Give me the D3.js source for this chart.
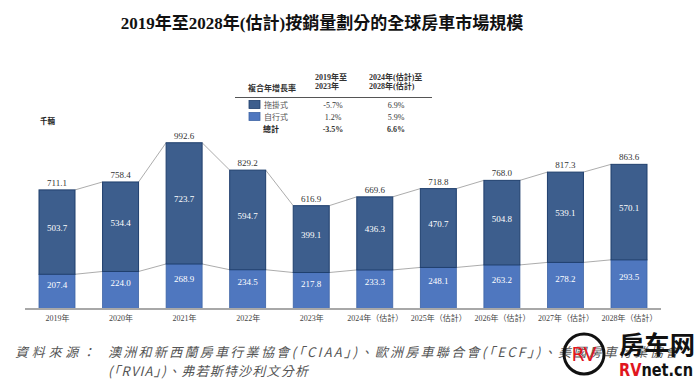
<!DOCTYPE html>
<html>
<head>
<meta charset="utf-8">
<script src="https://cdn.jsdelivr.net/npm/d3@7"></script>
<style>
  body { margin: 0; background: #fff; }
  svg { display: block; }
</style>
</head>
<body>
<script>
// data (thousand units)
const years = ["2019年", "2020年", "2021年", "2022年", "2023年",
  "2024年（估計）", "2025年（估計）", "2026年（估計）", "2027年（估計）", "2028年（估計）"];
const towable = [503.7, 534.4, 723.7, 594.7, 399.1, 436.3, 470.7, 504.8, 539.1, 570.1];
const motorized = [207.4, 224.0, 268.9, 234.5, 217.8, 233.3, 248.1, 263.2, 278.2, 293.5];
const totals = [711.1, 758.4, 992.6, 829.2, 616.9, 669.6, 718.8, 768.0, 817.3, 863.6];

const cagrHead = ["複合年增長率", ["2019年至", "2023年"], ["2024年(估計)至", "2028年(估計)"]];
const cagrRows = [
  { name: "拖掛式", a: "-5.7%", b: "6.9%" },
  { name: "自行式", a: "1.2%", b: "5.9%" },
  { name: "總計", a: "-3.5%", b: "6.6%" }
];

const W = 700, H = 385;
const serif = "'Liberation Serif','Noto Sans CJK TC',serif";
const cjk = "'Noto Sans CJK TC','Liberation Serif',sans-serif";
const darkC = "#3d5e8d", darkS = "#1f3f6d";
const lightC = "#4f77bf", lightS = "#3e64a5";

const svg = d3.select("body").append("svg").attr("width", W).attr("height", H);

// title
svg.append("text")
  .attr("x", 322).attr("y", 29)
  .attr("text-anchor", "middle")
  .style("font-family", serif).style("font-size", "17px").style("font-weight", "bold")
  .attr("fill", "#111")
  .text("2019年至2028年(估計)按銷量劃分的全球房車市場規模");

const x = d3.scalePoint().domain(years).range([57, 629]);
const y = d3.scaleLinear().domain([0, 1000]).range([309, 141.5]);
const bw = 36;

// connecting lines (total top and split level)
function connector(vals) {
  const pts = [];
  years.forEach((yr, i) => {
    pts.push([x(yr) - bw / 2, y(vals[i])]);
    pts.push([x(yr) + bw / 2, y(vals[i])]);
  });
  // only the gaps between bars
  for (let i = 1; i < pts.length - 1; i += 2) {
    svg.append("line")
      .attr("x1", pts[i][0]).attr("y1", pts[i][1])
      .attr("x2", pts[i + 1][0]).attr("y2", pts[i + 1][1])
      .attr("stroke", "#a3a3a3").attr("stroke-width", 0.9);
  }
}
connector(totals);
connector(motorized);

// bars
const g = svg.append("g");
g.selectAll(".mot").data(years).enter().append("rect")
  .attr("x", d => x(d) - bw / 2)
  .attr("y", (d, i) => y(motorized[i]))
  .attr("width", bw)
  .attr("height", (d, i) => y(0) - y(motorized[i]))
  .attr("fill", lightC).attr("stroke", lightS).attr("stroke-width", 0.8);

g.selectAll(".tow").data(years).enter().append("rect")
  .attr("x", d => x(d) - bw / 2)
  .attr("y", (d, i) => y(totals[i]))
  .attr("width", bw)
  .attr("height", (d, i) => y(motorized[i]) - y(totals[i]))
  .attr("fill", darkC).attr("stroke", darkS).attr("stroke-width", 1);

// value labels
g.selectAll(".tl").data(years).enter().append("text")
  .attr("x", d => x(d)).attr("y", (d, i) => y(totals[i]) - 4)
  .attr("text-anchor", "middle")
  .style("font-family", serif).style("font-size", "9px").attr("fill", "#333")
  .text((d, i) => totals[i].toFixed(1));

g.selectAll(".dl").data(years).enter().append("text")
  .attr("x", d => x(d))
  .attr("y", (d, i) => (y(totals[i]) + y(motorized[i])) / 2 - 4)
  .attr("text-anchor", "middle").attr("dominant-baseline", "central")
  .style("font-family", serif).style("font-size", "9px").attr("fill", "#fff")
  .text((d, i) => towable[i].toFixed(1));

g.selectAll(".ml").data(years).enter().append("text")
  .attr("x", d => x(d))
  .attr("y", (d, i) => (y(motorized[i]) + y(0)) / 2 - 7)
  .attr("text-anchor", "middle").attr("dominant-baseline", "central")
  .style("font-family", serif).style("font-size", "9px").attr("fill", "#fff")
  .text((d, i) => motorized[i].toFixed(1));

// baseline axis
const ax = svg.append("g").attr("transform", `translate(0,${y(0)})`)
  .call(d3.axisBottom(x).tickSize(0).tickPadding(6));
ax.select(".domain").remove();
ax.append("line").attr("x1", 25).attr("x2", 661).attr("stroke", "#a8a8a8").attr("stroke-width", 2);
ax.selectAll(".tick text")
  .style("font-family", serif).style("font-size", "8px").attr("fill", "#444");

// unit
svg.append("text").attr("x", 40).attr("y", 124)
  .style("font-family", cjk).style("font-size", "7.5px").style("font-weight", "bold")
  .attr("fill", "#222").text("千輛");

// CAGR table
const tb = svg.append("g").style("font-family", serif).style("font-size", "8px").attr("fill", "#333");
tb.append("text").attr("x", 248).attr("y", 91).style("font-family", cjk).style("font-weight", "bold")
  .text(cagrHead[0]);
[[315, cagrHead[1]], [369, cagrHead[2]]].forEach(([cx, lines]) => {
  lines.forEach((t, k) => {
    tb.append("text").attr("x", cx).attr("y", 80 + k * 9).style("font-weight", "bold").text(t);
  });
});
tb.append("line").attr("x1", 235).attr("x2", 432).attr("y1", 97.5).attr("y2", 97.5)
  .attr("stroke", "#555").attr("stroke-width", 1);
const rowY = d3.scalePoint().domain(cagrRows.map(r => r.name)).range([105, 129]);
cagrRows.forEach((r, i) => {
  const ry = rowY(r.name);
  const bold = i === 2 ? "bold" : "normal";
  if (i < 2) {
    tb.append("rect").attr("x", 249).attr("y", ry - 4.5).attr("width", 11).attr("height", 8)
      .attr("fill", i === 0 ? darkC : lightC).attr("stroke", i === 0 ? darkS : lightS).attr("stroke-width", 0.8);
  }
  tb.append("text").attr("x", i < 2 ? 264 : 263).attr("y", ry + 3)
    .style("font-family", cjk).style("font-weight", bold).attr("fill", i < 2 ? "#555" : "#222").text(r.name);
  tb.append("text").attr("x", 333).attr("y", ry + 3).attr("text-anchor", "middle")
    .style("font-weight", bold).text(r.a);
  tb.append("text").attr("x", 396).attr("y", ry + 3).attr("text-anchor", "middle")
    .style("font-weight", bold).text(r.b);
});

// source note
const src = svg.append("g").style("font-family", cjk).style("font-size", "13px")
  .style("font-style", "italic").attr("fill", "#555");
src.append("text").attr("x", 15).attr("y", 357).attr("textLength", 80).attr("lengthAdjust", "spacing")
  .text("資料來源：");
src.append("text").attr("x", 108).attr("y", 357).attr("textLength", 570).attr("lengthAdjust", "spacing")
  .text("澳洲和新西蘭房車行業協會(「CIAA」)、歐洲房車聯合會(「ECF」)、美國房車行業協會");
src.append("text").attr("x", 108).attr("y", 376).attr("textLength", 200).attr("lengthAdjust", "spacing")
  .text("(「RVIA」)、弗若斯特沙利文分析");

// watermark
const wm = svg.append("g");
wm.append("circle").attr("cx", 584).attr("cy", 354).attr("r", 20)
  .attr("fill", "none").attr("stroke", "#111").attr("stroke-width", 3);
wm.append("text").attr("x", 584).attr("y", 361).attr("text-anchor", "middle")
  .style("font-family", "'DejaVu Sans',sans-serif").style("font-size", "19px").attr("fill", "#e0161e")
  .text("RV");
wm.append("text").attr("x", 619).attr("y", 354)
  .attr("textLength", 76).attr("lengthAdjust", "spacingAndGlyphs")
  .style("font-family", cjk).style("font-size", "25px").style("font-weight", "bold").attr("fill", "#111")
  .text("房车网");
const wt = wm.append("text").attr("x", 619).attr("y", 376)
  .attr("textLength", 74).attr("lengthAdjust", "spacingAndGlyphs")
  .style("font-family", "'DejaVu Sans',sans-serif").style("font-size", "17px").style("font-weight", "bold");
wt.append("tspan").attr("fill", "#e0161e").text("RV");
wt.append("tspan").attr("fill", "#111").text("net.cn");
</script>
</body>
</html>
